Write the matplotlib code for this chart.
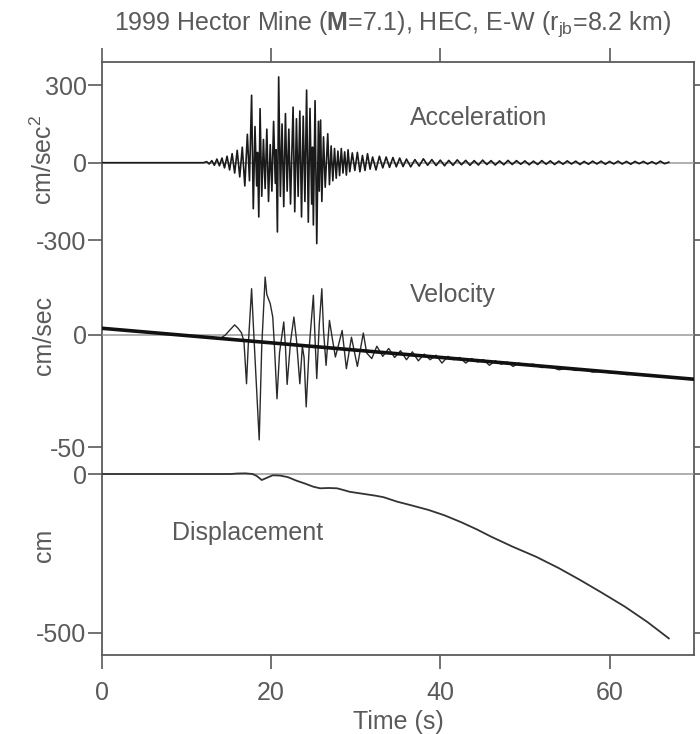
import matplotlib
matplotlib.use("Agg")
import matplotlib.pyplot as plt

plt.rcParams['font.family'] = ['Liberation Sans', 'DejaVu Sans']
plt.rcParams['mathtext.fontset'] = 'custom'
plt.rcParams['mathtext.rm'] = 'Liberation Sans'
plt.rcParams['mathtext.bf'] = 'Liberation Sans:bold'
plt.rcParams['mathtext.it'] = 'Liberation Sans:italic'

# ---------------- data ----------------
acc_t = [0, 12.0, 12.4, 12.7, 13.0, 13.3, 13.6, 13.9, 14.2, 14.5, 14.8, 15.1, 15.4, 15.7, 16.0,
         16.3, 16.6, 16.9, 17.2, 17.45, 17.7, 17.9, 18.1, 18.3, 18.4, 18.55, 18.7, 18.9, 19.1,
         19.3, 19.5, 19.7, 19.9, 20.1, 20.3, 20.5, 20.6, 20.75, 20.9, 21.1, 21.3, 21.5, 21.7,
         21.9, 22.1, 22.3, 22.6, 22.8, 23.0, 23.2, 23.4, 23.6, 23.8, 24.0, 24.2, 24.4, 24.6,
         24.8, 24.9, 25.0, 25.2, 25.4, 25.6, 25.7, 25.85, 26.0, 26.2, 26.4, 26.7, 26.9, 27.1,
         27.3, 27.5, 27.7, 27.9, 28.1, 28.3, 28.5, 28.7, 28.9, 29.1, 29.3, 29.6, 29.9, 30.2,
         30.5, 30.8, 31.1, 31.4, 31.7, 32.0, 32.4, 32.8, 33.2, 33.6, 34.0, 34.4, 34.8, 35.2,
         35.6, 36.0, 36.5, 37.0, 37.5, 38.0, 38.5, 39.0, 39.5, 40.0, 40.5, 41.0, 41.5, 42.0,
         42.5, 43.0, 43.5, 44.0, 44.5, 45.0, 45.5, 46.0, 46.5, 47.0, 47.5, 48.0, 48.5, 49.0,
         49.5, 50.0, 50.5, 51.0, 51.5, 52.0, 52.5, 53.0, 53.5, 54.0, 54.5, 55.0, 55.5, 56.0,
         56.5, 57.0, 57.5, 58.0, 58.5, 59.0, 59.5, 60.0, 60.5, 61.0, 61.5, 62.0, 62.5, 63.0,
         63.5, 64.0, 64.5, 65.0, 65.5, 66.0, 66.5, 67.0]
acc_v = [0, 0, 4, -5, 8, -10, 14, -12, 18, -20, 25, -28, 35, -40, 48,
         -55, 60, -90, 110, -70, 261, -178, 140, -90, 40, -210, 209, -130, 90,
         -100, 130, -150, 70, -110, 160, -80, 50, -268, 332, -130, 150, -170, 190,
         -110, 130, -160, 215, -190, 170, -130, 200, -210, 180, -150, 281, -230, 210,
         -160, 60, -241, 240, -313, 160, -110, 165, -150, 100, -95, 112, -85, 65,
         -70, 55, -60, 45, -50, 55, -40, 42, -48, 50, -35, 38, -30, 40,
         -35, 28, -30, 35, -25, 22, -28, 25, -20, 22, -18, 20, -16, 18,
         -15, 14, -16, 12, -13, 15, -10, 12, -11, 10, -12, 9, -10, 11,
         -8, 9, -10, 8, -9, 10, -7, 8, -9, 7, -8, 9, -7, 8,
         -6, 7, -8, 6, -7, 8, -6, 7, -7, 6, -6, 7, -5, 6,
         -7, 5, -6, 6, -5, 6, -6, 5, -5, 6, -5, 5, -6, 5,
         -4, 5, -5, 4, -5, 6, -4, 2]

vel_t = [0, 14.0, 14.6, 15.2, 15.7, 16.1, 16.5, 16.8, 17.1, 17.3, 17.7, 17.9, 18.1, 18.6,
         18.9, 19.3, 19.5, 19.9, 20.2, 20.4, 20.7, 21.0, 21.5, 21.7, 21.9, 22.3, 22.7, 23.0,
         23.4, 23.7, 23.9, 24.15, 24.5, 25.0, 25.2, 25.4, 25.7, 26.0, 26.2, 26.5, 26.9, 27.3,
         27.6, 28.0, 28.4, 28.9, 29.5, 30.2, 30.9, 31.3, 31.9, 32.5, 33.2, 33.9, 34.6, 35.3,
         36.0, 36.7, 37.4, 38.1, 38.8, 39.5, 40.2, 40.9, 41.6, 42.3, 43.0, 43.7, 44.4, 45.1,
         45.8, 46.5, 47.2, 47.9, 48.6, 49.3, 50.0, 51.0, 52.0, 53.0, 54.0, 55.0, 56.0, 57.0,
         58.0, 59.0, 60.0, 61.0, 62.0, 63.0, 64.0, 65.0, 66.0, 67.0]
vel_v = [3.0, -1.5, 0, 2.5, 4.5, 3, 1, -3, -21.7, -5, 20.6, 5, -10, -46.7,
         -5, 25.8, 18, 14, 8, -5, -28.4, -8, 5.8, -5, -22, -3, 8, -2,
         -21.7, -5, -10, -32, -6, 17.7, -2, -19.4, 5, 20.6, 2, -13.5, 6.5, -3,
         -9.8, -4, 2, -15, -1, -14, 0.9, -8, -10.5, -5, -9.5, -6, -10, -7,
         -11, -7.5, -11.5, -8.5, -11, -9, -12.5, -9.5, -11, -10, -12.5, -10.5, -12, -11,
         -13.5, -11.5, -13, -12, -14, -12.5, -13.5, -13, -14.5, -14, -15.5, -14.8, -15.8, -15.5,
         -16.5, -16.2, -16.8, -16.9, -17.6, -17.4, -18, -18.2, -18.5, -18.8]

trend_t = [0, 70]
trend_v = [3.0, -19.7]

disp_t = [0, 15.2, 16.0, 17.0, 17.8, 18.3, 18.9, 19.5, 20.2, 21.1, 22.0, 23.0, 24.0, 25.0,
          25.8, 26.8, 27.8, 28.5, 29.3, 30.3, 31.3, 32.3, 33.3, 34.9, 36.5, 38.6, 40.5, 42.5,
          44.3, 46.0, 48.5, 51.3, 54.0, 56.5, 59.0, 61.8, 64.5, 67.0]
disp_v = [0, 0, 1.5, 2, 0, -6, -19, -12, -4, -5, -10, -21, -30, -40,
          -45, -44, -45, -50, -56, -60, -64, -68, -73, -87, -98, -113, -130, -152,
          -174, -197, -228, -260, -296, -333, -372, -417, -466, -517]

x_ticks = [0, 20, 40, 60]
acc_ticks = [-300, 0, 300]
vel_ticks = [-50, 0]
disp_ticks = [-500, 0]

title = "1999 Hector Mine ($\\mathbf{M}$=7.1), HEC, E-W (r$_{\\rm jb}$=8.2 km)"

# ---------------- layout ----------------
W, H = 700, 734
fig = plt.figure(figsize=(W / 100, H / 100), dpi=100)
TXT = '#5a5a5a'
FS = 18

x0, x1 = 101.8, 694.2
ytop, ybot = 62, 655


def fpos(top, bot):
    return [x0 / W, 1 - bot / H, (x1 - x0) / W, (bot - top) / H]


frame = fig.add_axes(fpos(ytop, ybot))
frame.set_xlim(0, 70)
frame.set_ylim(0, 1)
frame.set_xticks(x_ticks)
frame.set_yticks([])
frame.tick_params(axis='x', which='both', top=True, bottom=True, direction='out',
                  length=10, width=1.2, color=TXT, labelsize=FS, labelcolor=TXT, pad=9)
for s in frame.spines.values():
    s.set_color(TXT)
    s.set_linewidth(1.3)
frame.set_xlabel('Time (s)', fontsize=FS, color=TXT, labelpad=3)
frame.patch.set_alpha(0)


def panel(top, bot, zero_px, px_per_unit, ticks):
    ax = fig.add_axes(fpos(top, bot), sharex=frame)
    ax.set_ylim((zero_px - bot) / px_per_unit, (zero_px - top) / px_per_unit)
    ax.patch.set_alpha(0)
    for s in ax.spines.values():
        s.set_visible(False)
    ax.set_yticks(ticks)
    ax.set_yticklabels([str(t) for t in ticks])
    ax.tick_params(axis='y', left=True, right=True, direction='out', length=10, width=1.2,
                   color=TXT, labelsize=FS, labelcolor=TXT, pad=1)
    ax.tick_params(axis='x', bottom=False, top=False, labelbottom=False)
    ax.axhline(0, color='#9a9a9a', lw=1.1, zorder=1)
    for t in ax.yaxis.get_major_ticks():
        t.tick2line.set_markersize(5)
    return ax


ax_a = panel(62, 262, 162.7, 0.2583, acc_ticks)
ax_v = panel(262, 462, 335.0, 2.246, vel_ticks)
ax_d = panel(462, 655, 474.0, 0.318, disp_ticks)

ax_a.plot(acc_t, acc_v, color='#1a1a1a', lw=1.2, zorder=3)
ax_v.plot(vel_t, vel_v, color='#2a2a2a', lw=1.0, zorder=3)
ax_v.plot(trend_t, trend_v, color='#111111', lw=2.6, zorder=4)
ax_d.plot(disp_t, disp_v, color='#333333', lw=1.3, zorder=3)

ax_a.text(36.4, 173, 'Acceleration', fontsize=FS, color=TXT, va='center', ha='left')
ax_v.text(36.4, 17.8, 'Velocity', fontsize=FS, color=TXT, va='center', ha='left')
ax_d.text(8.3, -185, 'Displacement', fontsize=FS, color=TXT, va='center', ha='left')

fig.text(44 / W, 1 - 160 / H, 'cm/sec$^2$', rotation=90, fontsize=FS, color=TXT,
         ha='center', va='center')
fig.text(44 / W, 1 - 335 / H, 'cm/sec', rotation=90, fontsize=FS, color=TXT,
         ha='center', va='center')
fig.text(44 / W, 1 - 545 / H, 'cm', rotation=90, fontsize=FS, color=TXT,
         ha='center', va='center')
fig.text(392 / W, 1 - 24 / H, title, fontsize=FS, color=TXT, ha='center', va='center')

fig.savefig('out.png', dpi=100)
